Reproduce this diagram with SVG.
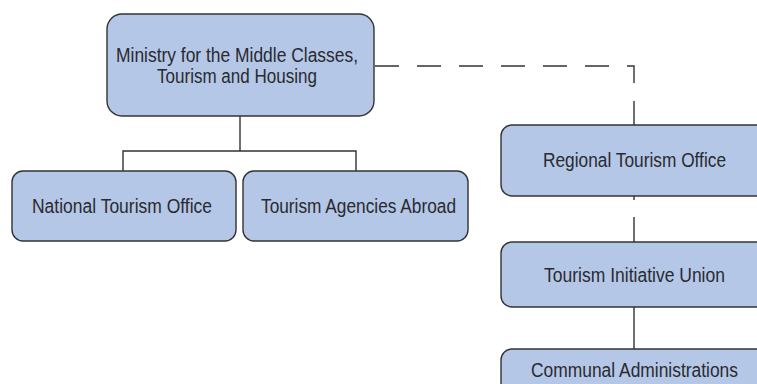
<svg xmlns="http://www.w3.org/2000/svg" width="757" height="384" viewBox="0 0 757 384">
<style>
.box{fill:#b4c7e7;stroke:#333;stroke-width:1.4}
.lbl{font-family:"Liberation Sans",Arial,sans-serif;font-size:19.5px;fill:#2a2a30}
.ln{fill:none;stroke:#333;stroke-width:1.4}
</style>
<rect width="757" height="384" fill="#fff"/>
<g id="connectors">
<path class="ln" d="M240,116 V151 M123,171 V151 H356 V171"/>
<path class="ln" d="M375,66 H634 V125" stroke-dasharray="24 18"/>
<path class="ln" d="M634,196 V242" stroke-dasharray="4 17 25 10"/>
<path class="ln" d="M634,307 V349"/>
</g>
<g id="ministry">
<rect class="box" x="107" y="14" width="267" height="102" rx="15"/>
<text class="lbl" x="116" y="62" textLength="242" lengthAdjust="spacingAndGlyphs">Ministry for the Middle Classes,</text>
<text class="lbl" x="157" y="82.5" textLength="160" lengthAdjust="spacingAndGlyphs">Tourism and Housing</text>
</g>
<g id="national">
<rect class="box" x="12" y="171" width="224" height="70" rx="11"/>
<text class="lbl" x="32" y="212.5" textLength="180" lengthAdjust="spacingAndGlyphs">National Tourism Office</text>
</g>
<g id="agencies">
<rect class="box" x="243" y="171" width="225" height="70" rx="11"/>
<text class="lbl" x="261" y="212.5" textLength="195" lengthAdjust="spacingAndGlyphs">Tourism Agencies Abroad</text>
</g>
<g id="regional">
<rect class="box" x="501" y="125" width="270" height="71" rx="11"/>
<text class="lbl" x="543" y="167" textLength="183" lengthAdjust="spacingAndGlyphs">Regional Tourism Office</text>
</g>
<g id="initiative">
<rect class="box" x="501" y="242" width="270" height="65" rx="11"/>
<text class="lbl" x="544" y="281.5" textLength="181" lengthAdjust="spacingAndGlyphs">Tourism Initiative Union</text>
</g>
<g id="communal">
<rect class="box" x="501" y="349" width="270" height="60" rx="11"/>
<text class="lbl" x="531" y="376.5" textLength="207" lengthAdjust="spacingAndGlyphs">Communal Administrations</text>
</g>
</svg>
